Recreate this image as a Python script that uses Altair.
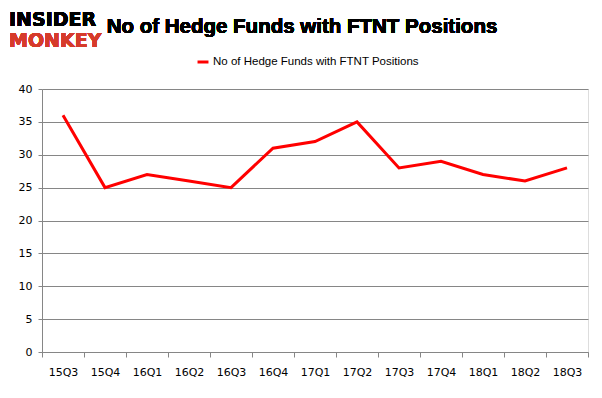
import altair as alt
import pandas as pd

quarters = ["15Q3", "15Q4", "16Q1", "16Q2", "16Q3", "16Q4", "17Q1", "17Q2",
            "17Q3", "17Q4", "18Q1", "18Q2", "18Q3"]
funds = [36, 25, 27, 26, 25, 31, 32, 35, 28, 29, 27, 26, 28]
series_name = "No of Hedge Funds with FTNT Positions"
title_text = "No of Hedge Funds with FTNT Positions"

df = pd.DataFrame({"quarter": quarters, "funds": funds, "series": series_name})

base = alt.Chart(df)

line = base.mark_line(strokeWidth=3).encode(
    x=alt.X("quarter:N", sort=quarters, bandPosition=0.5,
            scale=alt.Scale(type="band", paddingInner=0, paddingOuter=0),
            axis=alt.Axis(title=None, labelAngle=0, tickBand="extent", grid=False,
                          domainColor="#868686", tickColor="#868686", tickSize=5,
                          labelPadding=9, labelFont="DejaVu Sans", labelFontSize=11,
                          labelColor="#000000")),
    y=alt.Y("funds:Q", scale=alt.Scale(domain=[0, 40], nice=False),
            axis=alt.Axis(title=None, values=list(range(0, 41, 5)), grid=True,
                          gridColor="#868686", domainColor="#868686", tickColor="#868686",
                          tickSize=4, labelPadding=6, labelFont="DejaVu Sans",
                          labelFontSize=11, labelColor="#000000")),
    color=alt.Color("series:N", scale=alt.Scale(range=["#ff0000"]),
                    legend=alt.Legend(title=None, orient="none", legendX=154, legendY=-34,
                                      symbolType="stroke", symbolStrokeWidth=3,
                                      symbolSize=120, labelFont="Liberation Sans",
                                      labelFontSize=11.5, labelColor="#000000",
                                      labelLimit=0, labelOffset=3)),
)

title = base.mark_text(font="Liberation Sans", fontSize=20.5, fontWeight="bold",
                       color="#000000", align="center", baseline="alphabetic").encode(
    x=alt.value(260), y=alt.value(-56), text=alt.value(title_text))

logo1 = base.mark_text(font="DejaVu Sans", fontSize=19, fontWeight="bold",
                       color="#000000", align="left", baseline="middle").encode(
    x=alt.value(-33), y=alt.value(-69), text=alt.value("INSIDER"))
logo2 = base.mark_text(font="DejaVu Sans", fontSize=19, fontWeight="bold",
                       color="#d63b2a", align="left", baseline="middle").encode(
    x=alt.value(-33), y=alt.value(-48), text=alt.value("MONKEY"))

chart = alt.layer(line, title, logo1, logo2).properties(
    width=546, height=263,
    autosize=alt.AutoSizeParams(type="none"),
    padding={"left": 34, "top": 81, "right": 6, "bottom": 38},
).configure_view(stroke=None).configure(background="#ffffff")

chart.save("out.html", embed_options={"renderer": "svg", "actions": False})
